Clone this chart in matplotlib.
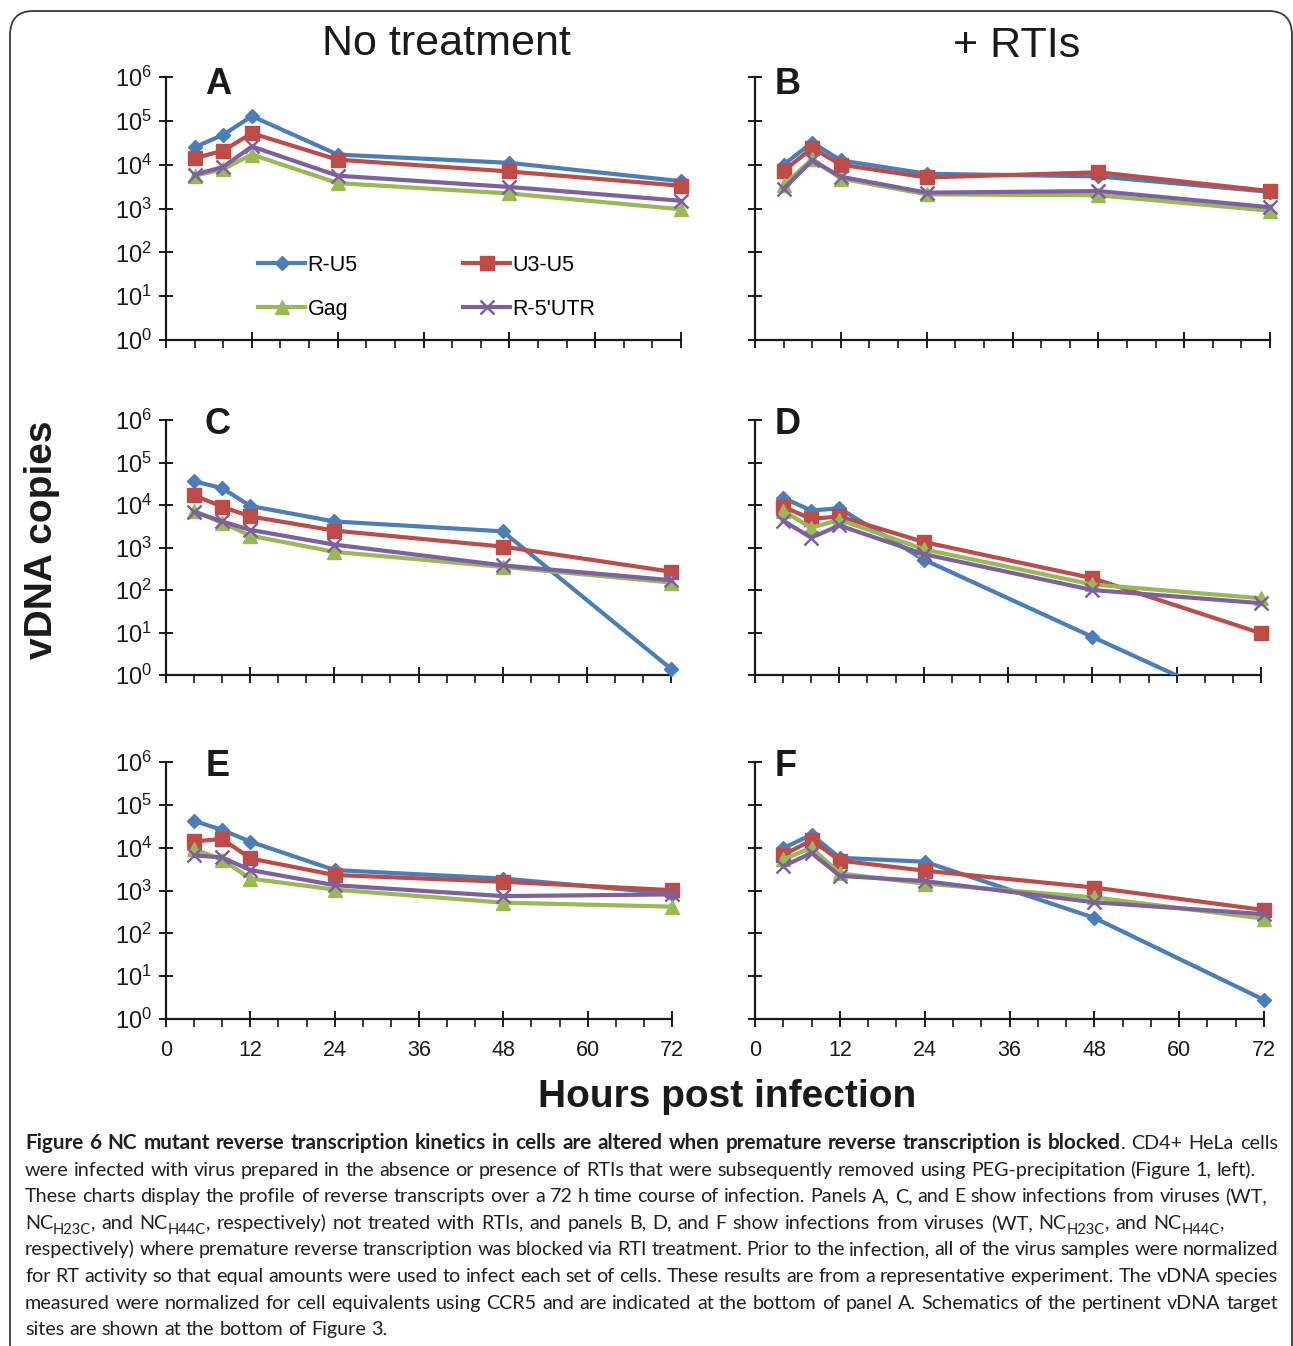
import re
import matplotlib
matplotlib.use("Agg")
import matplotlib.pyplot as plt
from matplotlib.ticker import FixedLocator, LogLocator, MultipleLocator, NullFormatter
from matplotlib.lines import Line2D
from matplotlib.patches import FancyBboxPatch

plt.rcParams['font.family'] = ['Liberation Sans', 'DejaVu Sans']
plt.rcParams['mathtext.fontset'] = 'custom'
plt.rcParams['mathtext.rm'] = 'Liberation Sans'

W, H = 1293, 1346

# sampling times (h)
hours = [4, 8, 12, 24, 48, 72]

# panel A - WT, no treatment
a_ru5 = [2.5e4, 4.8e4, 1.28e5, 1.7e4, 1.1e4, 4.2e3]
a_u3u5 = [1.4e4, 2.1e4, 5.2e4, 1.3e4, 7.0e3, 3.3e3]
a_gag = [5.6e3, 7.9e3, 1.7e4, 3.8e3, 2.2e3, 9.6e2]
a_utr = [5.9e3, 8.9e3, 2.6e4, 5.6e3, 3.1e3, 1.5e3]
# panel B - WT, + RTIs
b_ru5 = [1.0e4, 3.2e4, 1.25e4, 6.2e3, 5.4e3, 2.4e3]
b_u3u5 = [7.2e3, 2.4e4, 1.0e4, 5.1e3, 6.7e3, 2.5e3]
b_gag = [3.4e3, 1.35e4, 4.8e3, 2.1e3, 2.0e3, 8.9e2]
b_utr = [2.8e3, 1.25e4, 5.3e3, 2.3e3, 2.5e3, 1.07e3]
# panel C - NC H23C, no treatment
c_ru5 = [3.6e4, 2.5e4, 9.5e3, 4.1e3, 2.4e3, 1.4]
c_u3u5 = [1.7e4, 9.1e3, 5.4e3, 2.5e3, 1.05e3, 2.7e2]
c_gag = [7.3e3, 3.8e3, 1.9e3, 7.9e2, 3.5e2, 1.5e2]
c_utr = [6.9e3, 4.1e3, 2.6e3, 1.17e3, 3.8e2, 1.7e2]
# panel D - NC H23C, + RTIs (R-U5 falls below 1 copy at 72 h)
d_ru5 = [1.48e4, 7.4e3, 8.4e3, 5.2e2, 7.9, 0.12]
d_u3u5 = [9.2e3, 4.7e3, 5.4e3, 1.35e3, 1.9e2, 9.6]
d_gag = [7.4e3, 2.9e3, 4.5e3, 9.1e2, 1.35e2, 64]
d_utr = [4.3e3, 1.7e3, 3.3e3, 7.0e2, 1.0e2, 49]
# panel E - NC H44C, no treatment
e_ru5 = [4.2e4, 2.6e4, 1.38e4, 3.0e3, 1.9e3, 8.4e2]
e_u3u5 = [1.4e4, 1.6e4, 5.6e3, 2.3e3, 1.6e3, 1.02e3]
e_gag = [9.3e3, 5.2e3, 1.9e3, 1.05e3, 5.2e2, 4.2e2]
e_utr = [6.6e3, 5.9e3, 3.0e3, 1.33e3, 7.4e2, 8.1e2]
# panel F - NC H44C, + RTIs
f_ru5 = [9.8e3, 2.0e4, 5.8e3, 4.7e3, 2.3e2, 2.8]
f_u3u5 = [6.7e3, 1.5e4, 5.0e3, 2.9e3, 1.17e3, 3.5e2]
f_gag = [5.3e3, 1.0e4, 2.5e3, 1.45e3, 6.9e2, 2.2e2]
f_utr = [3.7e3, 7.5e3, 2.2e3, 1.66e3, 5.3e2, 2.8e2]

series_names = ['R-U5', 'U3-U5', 'Gag', "R-5'UTR"]
panel_letters = ['A', 'B', 'C', 'D', 'E', 'F']
column_titles = ['No treatment', '+ RTIs']
xticks = [0, 12, 24, 36, 48, 60, 72]

panel_data = {
    'A': [a_ru5, a_u3u5, a_gag, a_utr],
    'B': [b_ru5, b_u3u5, b_gag, b_utr],
    'C': [c_ru5, c_u3u5, c_gag, c_utr],
    'D': [d_ru5, d_u3u5, d_gag, d_utr],
    'E': [e_ru5, e_u3u5, e_gag, e_utr],
    'F': [f_ru5, f_u3u5, f_gag, f_utr],
}

colors = ['#4A7EBB', '#BE4B48', '#98B954', '#7D60A0']
markers = ['D', 's', '^', 'x']
msizes = [7, 10.5, 10.5, 10]

# axes boxes in pixels: left, top, right, bottom
boxes = {
    'A': (166, 77, 681, 340), 'B': (755, 77, 1270, 340),
    'C': (166, 420, 671, 675), 'D': (755, 420, 1261, 675),
    'E': (166, 762, 672, 1019), 'F': (755, 762, 1264, 1019),
}

fig = plt.figure(figsize=(W / 100, H / 100), dpi=100)

# rounded frame around the figure
frame = FancyBboxPatch((10 / W, -0.03), 1282 / W, 1 - 11 / H + 0.03,
                       boxstyle='round,pad=0,rounding_size=0.018',
                       transform=fig.transFigure, facecolor='none',
                       edgecolor='#3a3a3a', lw=1.3)
fig.patches.append(frame)

axes = {}
for i, p in enumerate(panel_letters):
    l, t, r, b = boxes[p]
    ax = fig.add_axes([l / W, 1 - b / H, (r - l) / W, (b - t) / H])
    ax.patch.set_alpha(0)
    for k in range(4):
        vals = panel_data[p][k]
        clip = min(vals) < 1
        ax.plot(hours, vals, color=colors[k], lw=3, marker=markers[k],
                ms=msizes[k], mew=1.8 if markers[k] == 'x' else 1,
                mec=colors[k], mfc=colors[k], clip_on=clip, zorder=3 + k)
    ax.set_yscale('log')
    ax.set_ylim(1, 1e6)
    ax.set_xlim(0, 72)
    ax.yaxis.set_major_locator(FixedLocator([10 ** k for k in range(7)]))
    ax.yaxis.set_minor_locator(LogLocator(base=10, subs=range(2, 10)))
    ax.yaxis.set_minor_formatter(NullFormatter())
    ax.xaxis.set_major_locator(FixedLocator(xticks))
    ax.xaxis.set_minor_locator(MultipleLocator(4))
    if i % 2 == 0:
        ax.set_yticklabels([r'$\mathregular{10^{%d}}$' % k for k in range(7)])
    else:
        ax.set_yticklabels([])
    if p in ('E', 'F'):
        ax.set_xticklabels([str(x) for x in xticks])
    else:
        ax.set_xticklabels([])
    ax.tick_params(axis='y', which='major', direction='inout', length=10,
                   width=1.4, labelsize=17, pad=5, colors='#1a1a1a')
    ax.tick_params(axis='y', which='minor', direction='in', length=5, width=1,
                   colors='#1a1a1a')
    ax.tick_params(axis='x', which='major', direction='inout', length=12,
                   width=1.4, labelsize=15.5, pad=9, colors='#1a1a1a')
    ax.tick_params(axis='x', which='minor', direction='out', length=6, width=1.2,
                   colors='#1a1a1a')
    for s in ('top', 'right'):
        ax.spines[s].set_visible(False)
    for s in ('left', 'bottom'):
        ax.spines[s].set_linewidth(1.6)
        ax.spines[s].set_color('#1a1a1a')
    axes[p] = ax

# panel letters
letter_pos = {'A': (218, 84), 'B': (788, 85), 'C': (218, 425),
              'D': (788, 425), 'E': (218, 767), 'F': (786, 767)}
for p, (x, y) in letter_pos.items():
    fig.text(x / W, 1 - y / H, p, fontsize=26, fontweight='bold',
             ha='center', va='center', color='#1a1a1a')

# column titles and axis titles
fig.text(446 / W, 1 - 44 / H, column_titles[0], fontsize=31, ha='center',
         va='center', color='#1a1a1a')
fig.text(1017 / W, 1 - 46 / H, column_titles[1], fontsize=31, ha='center',
         va='center', color='#1a1a1a')
fig.text(42 / W, 1 - 540 / H, 'vDNA copies', fontsize=28, fontweight='bold',
         rotation=90, ha='center', va='center', color='#1a1a1a')
fig.text(727 / W, 1 - 1097 / H, 'Hours post infection', fontsize=28,
         fontweight='bold', ha='center', va='center', color='#1a1a1a')

# legend in panel A, filled column by column
handles = [Line2D([], [], color=colors[k], lw=3, marker=markers[k], ms=msizes[k],
                  mew=1.8 if markers[k] == 'x' else 1) for k in range(4)]
order = [0, 2, 1, 3]
fig.legend([handles[k] for k in order], [series_names[k] for k in order],
           ncol=2, loc='upper left', bbox_to_anchor=(258 / W, 1 - 255 / H),
           frameon=False, fontsize=15.5, handlelength=2.2, handletextpad=0.1,
           columnspacing=4.9, labelspacing=1.05, borderpad=0, borderaxespad=0,
           numpoints=1)

# caption, justified line by line
caption_lines = [
    "**Figure 6 NC mutant reverse transcription kinetics in cells are altered when premature reverse transcription is blocked**. CD4+ HeLa cells",
    "were infected with virus prepared in the absence or presence of RTIs that were subsequently removed using PEG-precipitation (Figure 1, left).",
    "These charts display the profile of reverse transcripts over a 72 h time course of infection. Panels A, C, and E show infections from viruses (WT,",
    "NC_{H23C}, and NC_{H44C}, respectively) not treated with RTIs, and panels B, D, and F show infections from viruses (WT, NC_{H23C}, and NC_{H44C},",
    "respectively) where premature reverse transcription was blocked via RTI treatment. Prior to the infection, all of the virus samples were normalized",
    "for RT activity so that equal amounts were used to infect each set of cells. These results are from a representative experiment. The vDNA species",
    "measured were normalized for cell equivalents using CCR5 and are indicated at the bottom of panel A. Schematics of the pertinent vDNA target",
    "sites are shown at the bottom of Figure 3.",
]
line_right = [1278, 1256, 1267, 1224, 1278, 1278, 1278, None]
cap_left = 25
cap_base = 1149
cap_step = 26.6
CAP_FONT = ['Lato', 'DejaVu Sans']
cap_color = '#231f20'
SUB = 0.74
BOLD = 1.05


def parse(line, state):
    words = []
    for w in line.split(' '):
        pieces = []
        for tok in re.split(r'(\*\*|_\{[^}]*\})', w):
            if tok == '':
                continue
            if tok == '**':
                state[0] = not state[0]
                continue
            if tok.startswith('_{'):
                pieces.append((tok[2:-1], 'sub'))
            else:
                pieces.append((tok, 'bold' if state[0] else 'normal'))
        words.append(pieces)
    return words


renderer = fig.canvas.get_renderer()


def piece_size(kind, size):
    if kind == 'sub':
        return size * SUB
    if kind == 'bold':
        return size * BOLD
    return size


def piece_width(s, kind, size):
    t = fig.text(0, 0, s, fontsize=piece_size(kind, size), family=CAP_FONT,
                 fontweight='bold' if kind == 'bold' else 'normal')
    w = t.get_window_extent(renderer).width
    t.remove()
    return w


state = [False]
parsed = [parse(line, state) for line in caption_lines]


def measure(size):
    out = []
    for words in parsed:
        out.append([sum(piece_width(s, k, size) for s, k in wd) for wd in words])
    return out


cap_size = 14.2
widths = measure(cap_size)
fit = 1.0
for i, ws in enumerate(widths):
    if line_right[i] is None:
        continue
    nat = sum(ws) + 3.0 * (len(ws) - 1)
    fit = min(fit, (line_right[i] - cap_left) / nat)
if fit < 1:
    cap_size *= fit
    widths = measure(cap_size)

space = piece_width('x x', 'normal', cap_size) - piece_width('xx', 'normal', cap_size)
for i, words in enumerate(parsed):
    ws = widths[i]
    if line_right[i] is None or len(ws) < 2:
        gap = space
    else:
        gap = (line_right[i] - cap_left - sum(ws)) / (len(ws) - 1)
    x = cap_left
    y = cap_base + i * cap_step
    for wd, wtot in zip(words, ws):
        xx = x
        for s, k in wd:
            yy = y + (cap_size * 0.26 * 100 / 72 if k == 'sub' else 0)
            fig.text(xx / W, 1 - yy / H, s, fontsize=piece_size(k, cap_size),
                     family=CAP_FONT,
                     fontweight='bold' if k == 'bold' else 'normal',
                     ha='left', va='baseline', color=cap_color)
            xx += piece_width(s, k, cap_size)
        x += wtot + gap

fig.savefig('out.png', dpi=100)
